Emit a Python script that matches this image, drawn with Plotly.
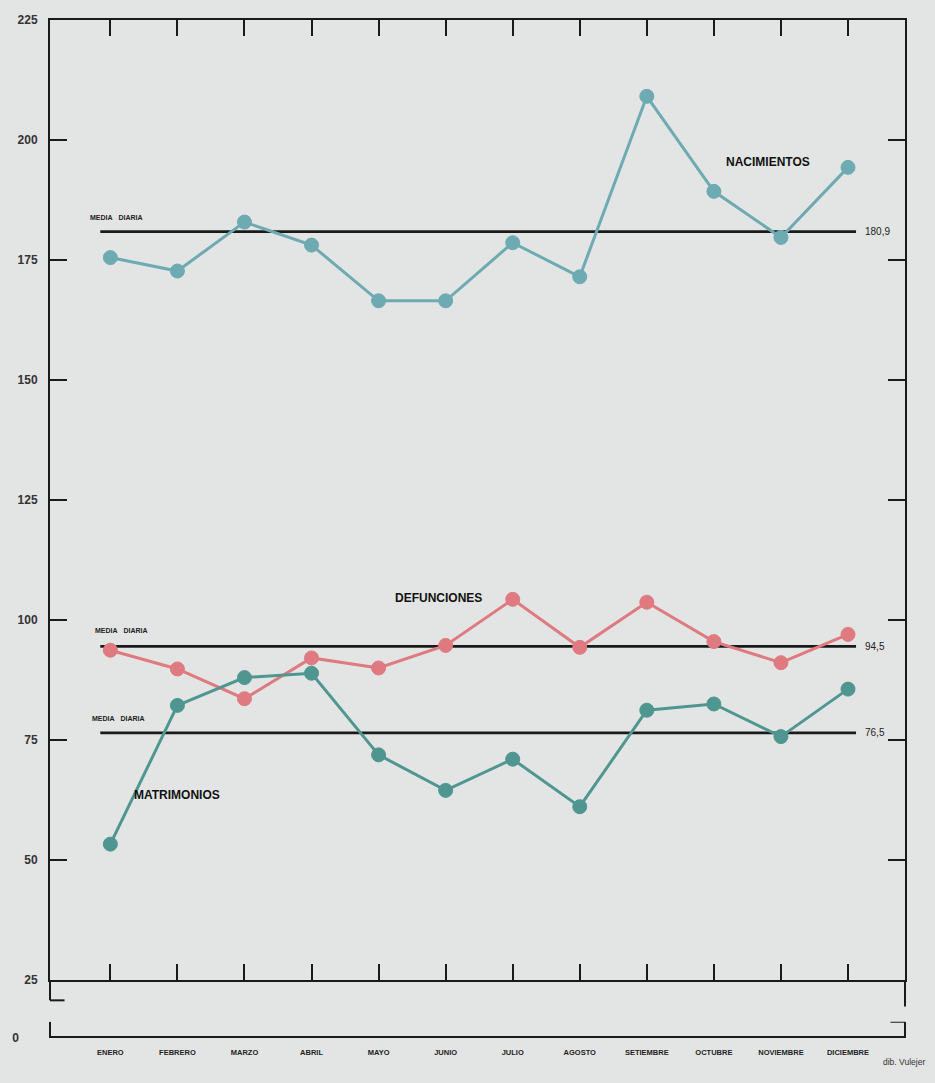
import plotly.graph_objects as go

MESES = ["ENERO", "FEBRERO", "MARZO", "ABRIL", "MAYO", "JUNIO", "JULIO",
         "AGOSTO", "SETIEMBRE", "OCTUBRE", "NOVIEMBRE", "DICIEMBRE"]
NACIMIENTOS = [175.5, 172.7, 182.9, 178.1, 166.5, 166.5, 178.6, 171.5, 209.1, 189.3, 179.7, 194.3]
DEFUNCIONES = [93.7, 89.8, 83.6, 92.1, 90.0, 94.7, 104.3, 94.3, 103.7, 95.5, 91.1, 97.0]
MATRIMONIOS = [53.3, 82.2, 88.0, 88.9, 71.9, 64.5, 71.0, 61.1, 81.2, 82.5, 75.7, 85.6]
MEDIA_NAC = 180.9
MEDIA_DEF = 94.5
MEDIA_MAT = 76.5
MEDIA_TXT = ["180,9", "94,5", "76,5"]
Y_TICKS = [25, 50, 75, 100, 125, 150, 175, 200, 225]

BG = "#e3e5e4"
C_NAC = "#6eaab2"
C_DEF = "#de7a80"
C_MAT = "#4f9691"
INK = "#1a1a1a"
FONT = "Liberation Sans"

xs = list(range(len(MESES)))
x_lo, x_hi = xs[0] - 0.15, xs[-1] + 0.12

fig = go.Figure()

# mean lines
for m in [MEDIA_NAC, MEDIA_DEF, MEDIA_MAT]:
    fig.add_trace(go.Scatter(x=[x_lo, x_hi], y=[m, m], mode="lines",
                             line=dict(color=INK, width=2.8), hoverinfo="skip",
                             showlegend=False))

for vals, col in [(NACIMIENTOS, C_NAC), (DEFUNCIONES, C_DEF), (MATRIMONIOS, C_MAT)]:
    fig.add_trace(go.Scatter(x=xs, y=vals, mode="lines+markers",
                             line=dict(color=col, width=3),
                             marker=dict(size=14, color=col,
                                         line=dict(color=col, width=1)),
                             showlegend=False))

# invisible trace on lower strip so x2/y2 exist
fig.add_trace(go.Scatter(x=[xs[0]], y=[0.5], xaxis="x2", yaxis="y2",
                         mode="markers", marker=dict(opacity=0),
                         hoverinfo="skip", showlegend=False))

D0 = 0.057  # bottom of main panel in paper units

fig.update_layout(
    width=935, height=1083,
    paper_bgcolor=BG, plot_bgcolor=BG,
    margin=dict(l=48, r=30, t=20, b=45),
    font=dict(family=FONT, color=INK),
    xaxis=dict(range=[-0.9, 11.85], tickvals=xs, ticktext=MESES,
               showticklabels=False, ticks="inside", ticklen=16, tickwidth=1.6,
               tickcolor=INK, showline=True, linecolor=INK, linewidth=2.2,
               mirror="ticks", showgrid=False, zeroline=False, anchor="y"),
    yaxis=dict(domain=[D0, 1], range=[25, 225], tickvals=Y_TICKS,
               ticks="inside", ticklen=17, tickwidth=1.8, tickcolor=INK,
               showline=True, linecolor=INK, linewidth=2, mirror="ticks",
               showgrid=False, zeroline=False, ticklabelstandoff=8,
               tickfont=dict(size=12, color="#333", weight="bold")),
    xaxis2=dict(range=[-0.9, 11.85], tickvals=xs, ticktext=MESES,
                matches="x", anchor="y2", showline=False, ticks="",
                showgrid=False, zeroline=False, ticklabelstandoff=8,
                tickfont=dict(size=7.5, color="#222", weight="bold")),
    yaxis2=dict(domain=[0, 0.016], range=[0, 1], tickvals=[0], ticktext=["0"],
                showline=False, ticks="", showgrid=False, zeroline=False,
                ticklabelstandoff=30,
                tickfont=dict(size=12, color="#333", weight="bold")),
)

shp = dict(color=INK, width=2)
shapes = [
    # left axis continuing below the 25 line, with foot
    dict(type="line", xref="paper", yref="paper", x0=0, x1=0, y0=D0, y1=D0 - 0.02, line=shp),
    dict(type="line", xref="paper", yref="paper", x0=0, x1=0.017, y0=D0 - 0.02, y1=D0 - 0.02, line=shp),
    # right axis continuing below
    dict(type="line", xref="paper", yref="paper", x0=1, x1=1, y0=D0, y1=D0 - 0.026, line=shp),
    # zero baseline
    dict(type="line", xref="paper", yref="y2", x0=0, x1=1, y0=0, y1=0, line=dict(color=INK, width=4)),
    dict(type="line", xref="paper", yref="y2", x0=0, x1=0, y0=0, y1=1, line=shp),
    dict(type="line", xref="paper", yref="y2", x0=1, x1=1, y0=0, y1=1, line=shp),
    dict(type="line", xref="paper", yref="y2", x0=1, x1=0.983, y0=1, y1=1, line=shp),
]
fig.update_layout(shapes=shapes)

ann = []
for m, txt in zip([MEDIA_NAC, MEDIA_DEF, MEDIA_MAT], MEDIA_TXT):
    ann.append(dict(x=x_hi + 0.1, y=m, text=txt, showarrow=False, xanchor="left",
                    font=dict(size=10, color="#222")))
for x, y in [(-0.33, 183.8), (-0.26, 97.9), (-0.3, 79.5)]:
    ann.append(dict(x=x, y=y, text="MEDIA&nbsp;&nbsp;&nbsp;DIARIA", showarrow=False,
                    xanchor="left", font=dict(size=7, color="#222", weight="bold")))
for x, y, t in [(9.8, 195.5, "NACIMIENTOS"), (4.9, 104.6, "DEFUNCIONES"),
                (1.0, 63.6, "MATRIMONIOS")]:
    ann.append(dict(x=x, y=y, text=t, showarrow=False,
                    font=dict(size=12, color="#111", weight="bold")))
ann.append(dict(xref="paper", yref="paper", x=0.972, y=-0.03, text="dib. Vulejer",
                showarrow=False, xanchor="left", font=dict(size=8.5, color="#333")))
fig.update_layout(annotations=ann)

fig.write_html("out.html",
               config={"displayModeBar": False},
               post_script="document.body.style.margin='0';"
                           "document.body.style.background='" + BG + "';")
